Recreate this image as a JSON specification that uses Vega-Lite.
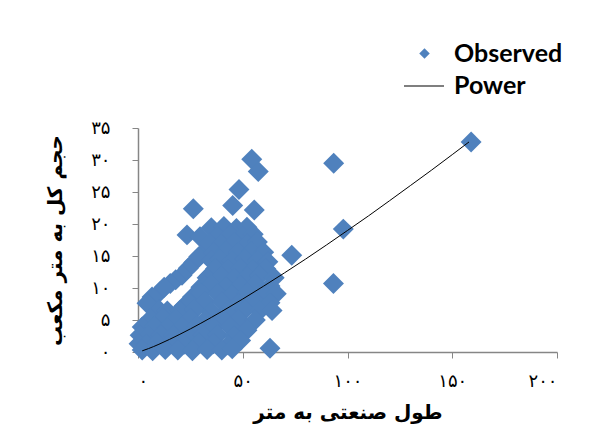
{
  "$schema": "https://vega.github.io/schema/vega-lite/v6.json",
  "width": 419,
  "height": 224,
  "autosize": "none",
  "padding": {"left": 138, "top": 128, "right": 38, "bottom": 87},
  "background": "white",
  "config": {"view": {"stroke": null}, "legend": {"padding": 0}},
  "datasets": {
    "obs": [
      {"x":159,"y":32.8},{"x":93.4,"y":29.5},{"x":98,"y":19.2},{"x":93.3,"y":10.7},{"x":73.4,"y":15.1},{"x":63,"y":0.6},
      {"x":54.3,"y":30.1},{"x":57.4,"y":28.2},{"x":48.2,"y":25.4},{"x":26.4,"y":22.4},{"x":45.2,"y":22.9},{"x":55.5,"y":22.2},
      {"x":23.4,"y":18.3},{"x":29.6,"y":18.0},{"x":26.6,"y":14.0},{"x":24,"y":13.1},{"x":21,"y":12},{"x":18,"y":11.3},{"x":15.4,"y":10.7},{"x":10.5,"y":9.4},{"x":6.7,"y":8.6},{"x":4.3,"y":7.6},{"x":32,"y":15.8},
      {"x":29,"y":14.9},{"x":12.5,"y":10.1},
      {"x":22,"y":7.2},{"x":26,"y":8.6},{"x":30,"y":10.1},{"x":34,"y":11.9},
      {"x":35,"y":19.4},{"x":41,"y":19.6},{"x":47,"y":19.3},{"x":52,"y":19.5},
      {"x":38,"y":18.1},{"x":44,"y":18.3},{"x":50,"y":18.0},{"x":55,"y":18.4},
      {"x":34,"y":17.0},{"x":40,"y":16.8},{"x":46,"y":17.1},{"x":52,"y":16.9},{"x":57,"y":17.2},
      {"x":36,"y":15.6},{"x":42,"y":15.8},{"x":48,"y":15.5},{"x":54,"y":15.7},{"x":60,"y":15.6},
      {"x":35,"y":14.3},{"x":39,"y":14.5},{"x":45,"y":14.2},{"x":51,"y":14.5},{"x":57,"y":14.3},{"x":62,"y":14.1},
      {"x":37,"y":13.0},{"x":43,"y":12.9},{"x":49,"y":13.1},{"x":55,"y":12.8},{"x":61,"y":13.0},
      {"x":33,"y":11.6},{"x":40,"y":11.8},{"x":46,"y":11.5},{"x":52,"y":11.7},{"x":58,"y":11.9},{"x":65,"y":11.6},
      {"x":32,"y":10.3},{"x":35,"y":10.5},{"x":42,"y":10.2},{"x":49,"y":10.4},{"x":56,"y":10.6},{"x":63,"y":10.3},
      {"x":28,"y":9.0},{"x":30,"y":9.2},{"x":38,"y":9.1},{"x":45,"y":8.9},{"x":52,"y":9.2},{"x":60,"y":9.0},{"x":66,"y":9.1},
      {"x":24,"y":7.7},{"x":32,"y":7.9},{"x":40,"y":7.8},{"x":48,"y":7.6},{"x":56,"y":7.9},{"x":63,"y":7.7},
      {"x":10,"y":6.6},{"x":14,"y":6.4},{"x":20,"y":6.5},{"x":27,"y":6.6},{"x":35,"y":6.3},{"x":43,"y":6.5},{"x":51,"y":6.6},{"x":58,"y":6.4},{"x":64,"y":6.5},
      {"x":6,"y":5.2},{"x":12,"y":5.3},{"x":18,"y":5.1},{"x":25,"y":5.2},{"x":32,"y":5.0},{"x":40,"y":5.3},{"x":48,"y":5.1},{"x":56,"y":5.0},
      {"x":2,"y":3.9},{"x":8,"y":4.0},{"x":14,"y":3.8},{"x":21,"y":3.9},{"x":28,"y":4.1},{"x":36,"y":3.8},{"x":44,"y":3.9},{"x":52,"y":3.4},
      {"x":1,"y":2.6},{"x":5,"y":2.5},{"x":11,"y":2.7},{"x":17,"y":2.6},{"x":24,"y":2.4},{"x":31,"y":2.6},{"x":38,"y":2.7},{"x":46,"y":2.5},{"x":49,"y":1.8},
      {"x":0.5,"y":1.3},{"x":4,"y":1.2},{"x":9,"y":1.4},{"x":15,"y":1.3},{"x":22,"y":1.2},{"x":29,"y":1.4},{"x":36,"y":1.3},{"x":43,"y":1.1},
      {"x":2,"y":0.3},{"x":7,"y":0.2},{"x":13,"y":0.4},{"x":19,"y":0.3},{"x":26,"y":0.2},{"x":33,"y":0.4},{"x":40,"y":0.3},{"x":45,"y":0.5}
    ],
    "fit": [
      {"x":2,"y":0.18},{"x":5,"y":0.53},{"x":10,"y":1.21},{"x":20,"y":2.77},{"x":30,"y":4.49},{"x":40,"y":6.34},
      {"x":50,"y":8.28},{"x":60,"y":10.30},{"x":70,"y":12.38},{"x":80,"y":14.52},{"x":90,"y":16.73},{"x":100,"y":18.99},
      {"x":110,"y":21.26},{"x":120,"y":23.62},{"x":130,"y":26.0},{"x":140,"y":28.39},{"x":150,"y":30.84},{"x":158,"y":32.82}
    ]
  },
  "encoding": {
    "x": {
      "field": "x", "type": "quantitative",
      "scale": {"domain": [0, 200], "nice": false, "zero": true},
      "axis": {
        "values": [0, 50, 100, 150, 200],
        "title": "طول صنعتی به متر",
        "titleFont": "DejaVu Sans", "titleFontSize": 20, "titleFontWeight": "bold", "titleColor": "#000000",
        "titleY": 60, "titleBaseline": "middle",
        "labelFont": "DejaVu Sans", "labelFontSize": 18, "labelColor": "#000000", "labelPadding": 14,
        "labelExpr": "replace(replace(replace(replace(replace(datum.label,/0/g,'۰'),/1/g,'۱'),/2/g,'۲'),/3/g,'۳'),/5/g,'۵')",
        "grid": false, "domainColor": "#868686", "tickColor": "#868686", "tickSize": 6, "domainWidth": 1.5
      }
    },
    "y": {
      "field": "y", "type": "quantitative",
      "scale": {"domain": [0, 35], "nice": false},
      "axis": {
        "values": [0, 5, 10, 15, 20, 25, 30, 35],
        "title": "حجم کل به متر مکعب",
        "titleFont": "DejaVu Sans", "titleFontSize": 20, "titleFontWeight": "bold", "titleColor": "#000000",
        "titleX": -83, "titleY": 112, "titleBaseline": "middle", "titleAngle": 270,
        "labelFont": "DejaVu Sans", "labelFontSize": 18, "labelColor": "#000000", "labelPadding": 22,
        "labelExpr": "replace(replace(replace(replace(replace(datum.label,/0/g,'۰'),/1/g,'۱'),/2/g,'۲'),/3/g,'۳'),/5/g,'۵')",
        "grid": false, "domainColor": "#868686", "tickColor": "#868686", "tickSize": 6, "domainWidth": 1.5
      }
    }
  },
  "layer": [
    {
      "data": {"name": "obs"},
      "transform": [{"calculate": "'Observed'", "as": "series"}],
      "mark": {"type": "point", "shape": "diamond", "filled": true, "size": 440, "opacity": 1, "strokeWidth": 0},
      "encoding": {
        "fill": {
          "field": "series", "type": "nominal",
          "scale": {"domain": ["Observed"], "range": ["#4F81BD"]},
          "legend": {
            "title": null, "orient": "none", "legendX": 274, "legendY": -87,
            "symbolSize": 110, "symbolType": "diamond", "symbolOpacity": 1, "symbolStrokeWidth": 0,
            "labelFont": "Lato", "labelFontSize": 25, "labelFontWeight": "bold", "labelColor": "#000000",
            "labelOffset": 17
          }
        }
      }
    },
    {
      "data": {"name": "fit"},
      "transform": [{"calculate": "'Power'", "as": "series"}],
      "mark": {"type": "line", "strokeWidth": 1, "interpolate": "monotone"},
      "encoding": {
        "stroke": {
          "field": "series", "type": "nominal",
          "scale": {"domain": ["Power"], "range": ["#000000"]},
          "legend": {
            "title": null, "orient": "none", "legendX": 265, "legendY": -63,
            "symbolSize": 1600, "symbolType": "stroke", "symbolStrokeWidth": 1.2,
            "labelFont": "Lato", "labelFontSize": 25, "labelFontWeight": "bold", "labelColor": "#000000",
            "labelOffset": 9
          }
        }
      }
    }
  ]
}
